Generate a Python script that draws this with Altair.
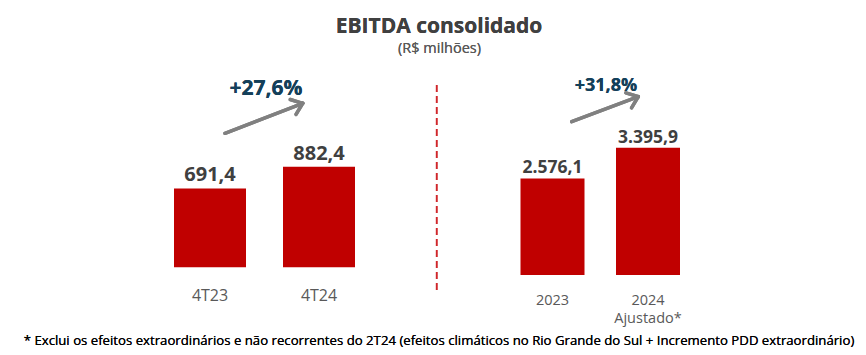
import math
import altair as alt
import pandas as pd

# ---------------- data ----------------
q_categories = ["4T23", "4T24"]
q_values = [691.4, 882.4]
y_categories = ["2023", "2024 Ajustado*"]
y_values = [2576.1, 3395.9]
q_growth = "+27,6%"
y_growth = "+31,8%"
title_text = "EBITDA consolidado"
subtitle_text = "(R$ milhões)"
footnote_text = ("* Exclui os efeitos extraordinários e não recorrentes do 2T24 "
                 "(efeitos climáticos no Rio Grande do Sul + Incremento PDD extraordinário)")

RED = "#c00000"
DARK = "#404040"
TEAL = "#14405a"
GRAY = "#595959"
FONT = "Open Sans"


def br(v):
    s = f"{v:,.1f}"
    return s.replace(",", "X").replace(".", ",").replace("X", ".")


def band_range(c1, c2, bw, po=0.5):
    step = c2 - c1
    pi = 1 - bw / step
    a = c1 - step * po - bw / 2
    b = a + step * (2 - pi + 2 * po)
    return [a, b], pi, po


dq = pd.DataFrame({"cat": q_categories, "val": q_values,
                   "lab": [br(v) for v in q_values],
                   "xlab": [[c] for c in q_categories]})
dy = pd.DataFrame({"cat": y_categories, "val": y_values,
                   "lab": [br(v) for v in y_values],
                   "xlab": [c.split(" ") for c in y_categories]})

rq, piq, poq = band_range(210 - 8, 319 - 8, 72)
ry, piy, poy = band_range(552.5 - 8, 648 - 8, 64)

xq = alt.X("cat:N", sort=q_categories, axis=None,
           scale=alt.Scale(type="band", range=rq, paddingInner=piq, paddingOuter=poq))
yq = alt.Y("val:Q", axis=None,
           scale=alt.Scale(domain=[0, 1000], range=[259.3, 259.3 - 100.6 / 882.4 * 1000]))
xy = alt.X("cat:N", sort=y_categories, axis=None,
           scale=alt.Scale(type="band", range=ry, paddingInner=piy, paddingOuter=poy))
yy = alt.Y("val:Q", axis=None,
           scale=alt.Scale(domain=[0, 4000], range=[267, 267 - 127.3 / 3395.9 * 4000]))

left_bars = alt.Chart(dq).mark_bar(color=RED).encode(x=xq, y=yq)
left_vals = alt.Chart(dq).mark_text(font=FONT, fontSize=20, fontWeight="bold", color=DARK,
                                    baseline="alphabetic", dy=-7).encode(x=xq, y=yq, text="lab:N")
left_cats = alt.Chart(dq).mark_text(font=FONT, fontSize=16, color=GRAY,
                                    baseline="alphabetic").encode(x=xq, y=alt.value(292.5), text="cat:N")

right_bars = alt.Chart(dy).mark_bar(color=RED).encode(x=xy, y=yy)
right_vals = alt.Chart(dy).mark_text(font=FONT, fontSize=17.5, fontWeight="bold", color=DARK,
                                     baseline="alphabetic", dy=-5).encode(x=xy, y=yy, text="lab:N")
right_cats = alt.Chart(dy).mark_text(font=FONT, fontSize=14.5, color=GRAY, lineHeight=18,
                                     baseline="alphabetic").encode(x=xy, y=alt.value(297), text="xlab")


def arrow(x1, y1, x2, y2, leg=13, ang=38):
    dx, dy_ = x2 - x1, y2 - y1
    L = math.hypot(dx, dy_)
    rx, ry_ = -dx / L, -dy_ / L
    segs = [(x1, y1, x2, y2)]
    for s in (1, -1):
        a = math.radians(ang * s)
        lx = rx * math.cos(a) - ry_ * math.sin(a)
        ly = rx * math.sin(a) + ry_ * math.cos(a)
        segs.append((x2, y2, x2 + leg * lx, y2 + leg * ly))
    layers = []
    for (a1, b1, a2, b2) in segs:
        layers.append(alt.Chart(dq).mark_rule(color="#808080", strokeWidth=3.5, strokeCap="round").encode(
            x=alt.value(a1), y=alt.value(b1), x2=alt.value(a2), y2=alt.value(b2)))
    return layers


arrows = arrow(217, 125.3, 294.7, 95.3) + arrow(563.7, 113.7, 630.3, 88.7)

growth_q = alt.Chart(dq).mark_text(font=FONT, fontSize=21, fontWeight="bold", color=TEAL,
                                   baseline="alphabetic").encode(
    x=alt.value(258), y=alt.value(87), text=alt.value(q_growth))
growth_y = alt.Chart(dq).mark_text(font=FONT, fontSize=18, fontWeight="bold", color=TEAL,
                                   baseline="alphabetic").encode(
    x=alt.value(598), y=alt.value(82.7), text=alt.value(y_growth))

divider = alt.Chart(dq).mark_rule(color="#d0262b", strokeWidth=1.6, strokeDash=[7, 4]).encode(
    x=alt.value(428.7), y=alt.value(77), y2=alt.value(282))

title = alt.Chart(dq).mark_text(font=FONT, fontSize=21, fontWeight="bold", color=DARK,
                                baseline="alphabetic").encode(
    x=alt.value(431), y=alt.value(25.3), text=alt.value(title_text))
subtitle = alt.Chart(dq).mark_text(font=FONT, fontSize=14.5, color=GRAY,
                                   baseline="alphabetic").encode(
    x=alt.value(431.5), y=alt.value(45), text=alt.value(subtitle_text))
footnote = alt.Chart(dq).mark_text(font=FONT, fontSize=13.2, fontWeight="normal", color="#000000",
                                   baseline="alphabetic").encode(
    x=alt.value(431), y=alt.value(337), text=alt.value(footnote_text))

chart = alt.layer(
    left_bars, left_vals, left_cats,
    right_bars, right_vals, right_cats,
    *arrows, growth_q, growth_y, divider, title, subtitle, footnote
).resolve_scale(x="independent", y="independent").properties(
    width=850, height=346, padding=0,
    autosize=alt.AutoSizeParams(type="none"),
    background="#ffffff"
).configure_view(stroke=None)

chart.save("out.html", embed_options={"renderer": "svg", "actions": False})
